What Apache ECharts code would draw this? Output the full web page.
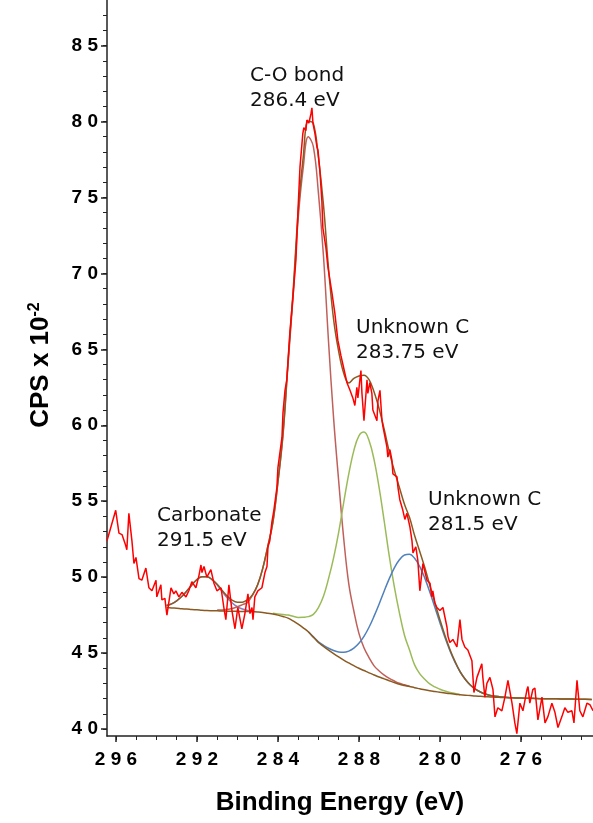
<!DOCTYPE html>
<html>
<head>
<meta charset="utf-8">
<title>XPS C 1s</title>
<script src="https://cdn.jsdelivr.net/npm/echarts@6/dist/echarts.min.js"></script>
<style>
  html, body { margin: 0; padding: 0; background: #fff; }
  #chart { width: 593px; height: 823px; }
</style>
</head>
<body>
<div id="chart"></div>
<script>
// measured spectrum (binding energy, counts x 10^-2)
const specBE = [296.44, 296.01, 295.85, 295.70, 295.52, 295.46, 295.36, 295.21, 295.11, 295.01,
  294.86, 294.72, 294.52, 294.37, 294.22, 294.02, 293.98, 293.78, 293.73, 293.58,
  293.53, 293.48, 293.28, 293.14, 293.04, 292.89, 292.74, 292.54, 292.40, 292.25,
  292.05, 291.90, 291.80, 291.75, 291.65, 291.51, 291.31, 291.16, 291.01, 290.81,
  290.67, 290.57, 290.42, 290.27, 290.12, 289.98, 289.78, 289.63, 289.48, 289.38,
  289.28, 289.23, 289.14, 288.99, 288.79, 288.64, 288.54, 288.49, 288.40, 288.30,
  288.20, 288.05, 288.00, 287.80, 287.75, 287.65, 287.56, 287.41, 287.26, 287.11,
  287.01, 286.91, 286.77, 286.72, 286.62, 286.57, 286.47, 286.37, 286.32, 286.27,
  286.17, 286.07, 286.02, 285.93, 285.83, 285.78, 285.63, 285.53, 285.33, 285.19,
  285.04, 284.89, 284.79, 284.59, 284.44, 284.30, 284.20, 284.10, 284.05, 283.90,
  283.85, 283.75, 283.60, 283.56, 283.46, 283.36, 283.31, 283.11, 283.06, 282.96,
  282.86, 282.81, 282.62, 282.57, 282.47, 282.37, 282.32, 282.12, 282.07, 281.98,
  281.83, 281.73, 281.63, 281.48, 281.38, 281.33, 281.19, 281.09, 280.99, 280.84,
  280.64, 280.49, 280.40, 280.35, 280.25, 280.15, 280.00, 279.85, 279.65, 279.60,
  279.51, 279.36, 279.16, 279.01, 278.91, 278.77, 278.62, 278.42, 278.32, 278.17,
  277.93, 277.88, 277.78, 277.68, 277.53, 277.38, 277.28, 277.14, 276.94, 276.79,
  276.64, 276.44, 276.30, 276.20, 276.05, 275.90, 275.70, 275.65, 275.56, 275.41,
  275.31, 275.16, 274.96, 274.81, 274.67, 274.47, 274.32, 274.17, 273.98, 273.83,
  273.68, 273.48, 273.38, 273.23, 273.09, 272.94, 272.74, 272.59, 272.44];
const specCps = [52.4, 54.4, 52.9, 52.8, 52.1, 51.8, 54.2, 52.4, 50.9, 51.3,
  49.9, 49.8, 50.6, 49.3, 49.1, 49.8, 48.7, 49.5, 48.5, 48.6,
  48.0, 47.5, 49.3, 48.9, 49.1, 48.7, 49.0, 48.7, 49.1, 49.7,
  49.3, 50.1, 50.8, 50.3, 50.7, 50.0, 50.5, 49.6, 49.1, 49.3,
  48.0, 47.2, 49.5, 47.8, 46.6, 48.0, 46.6, 47.6, 48.9, 47.6,
  48.0, 47.2, 48.7, 49.1, 49.3, 50.3, 50.7, 52.0, 52.4, 53.6,
  54.4, 55.9, 57.2, 59.2, 60.8, 62.3, 63.0, 66.1, 68.4, 70.9,
  74.1, 77.0, 79.2, 79.6, 79.4, 80.1, 79.9, 80.5, 80.9, 79.9,
  79.2, 78.3, 78.1, 76.8, 74.8, 73.0, 71.7, 70.4, 68.7, 67.4,
  65.6, 64.6, 64.0, 62.8, 62.3, 61.8, 61.3, 62.5, 61.8, 63.6,
  62.1, 60.3, 63.0, 62.1, 62.8, 62.1, 61.0, 60.3, 61.6, 62.3,
  60.3, 59.9, 58.6, 57.9, 58.4, 57.7, 56.8, 56.6, 55.9, 55.1,
  54.4, 53.8, 54.2, 53.3, 52.4, 51.6, 52.0, 51.1, 49.1, 50.9,
  49.8, 49.6, 48.7, 49.1, 48.3, 48.0, 47.8, 48.0, 46.7, 46.1,
  45.7, 45.9, 45.4, 47.2, 45.9, 45.4, 45.2, 44.5, 42.4, 43.4,
  44.3, 43.4, 42.1, 43.0, 43.4, 42.6, 40.8, 41.4, 41.2, 42.1,
  43.2, 41.7, 40.4, 39.7, 41.7, 41.2, 42.6, 42.8, 41.7, 42.6,
  42.7, 40.6, 42.1, 40.4, 40.8, 41.7, 41.1, 40.1, 40.8, 41.4,
  41.1, 41.2, 40.4, 43.2, 41.2, 40.8, 41.7, 41.6, 41.2];

// fit grid (eV) and fitted curves
const fitBE = [293.5, 293.25, 293.0, 292.75, 292.5, 292.25, 292.0, 291.75, 291.5, 291.25,
  291.0, 290.75, 290.5, 290.25, 290.0, 289.75, 289.5, 289.25, 289.0, 288.75,
  288.5, 288.25, 288.0, 287.75, 287.5, 287.25, 287.0, 286.75, 286.5, 286.25,
  286.0, 285.75, 285.5, 285.25, 285.0, 284.75, 284.5, 284.25, 284.0, 283.75,
  283.5, 283.25, 283.0, 282.75, 282.5, 282.25, 282.0, 281.75, 281.5, 281.25,
  281.0, 280.75, 280.5, 280.25, 280.0, 279.75, 279.5, 279.25, 279.0, 278.75,
  278.5, 278.25, 278.0, 277.75, 277.5, 277.25, 277.0,
  276.5, 276.0, 275.5, 275.0, 274.5, 274.0, 273.5, 273.0, 272.5];
const background = [48.0, 47.97, 47.95, 47.92, 47.9, 47.87, 47.85, 47.82, 47.8, 47.79,
  47.78, 47.77, 47.76, 47.75, 47.75, 47.74, 47.74, 47.72, 47.7, 47.67,
  47.62, 47.57, 47.5, 47.41, 47.3, 47.12, 46.9, 46.66, 46.4, 46.05,
  45.7, 45.44, 45.2, 44.97, 44.75, 44.54, 44.35, 44.17, 44.0, 43.85,
  43.7, 43.56, 43.42, 43.3, 43.18, 43.06, 42.95, 42.87, 42.8, 42.72,
  42.65, 42.58, 42.52, 42.47, 42.42, 42.37, 42.33, 42.29, 42.26, 42.23,
  42.2, 42.17, 42.15, 42.13, 42.11, 42.09, 42.08,
  42.06, 42.04, 42.02, 42.0, 41.99, 41.98, 41.97, 41.96, 41.95];
const carbonate = [48.13, 48.24, 48.44, 48.72, 49.09, 49.49, 49.84, 50.03, 50.03, 49.83,
  49.48, 49.05, 48.63, 48.29, 48.05, 47.9, 47.81, 47.75, null, null,
  null, null, null, null, null, null, null, null, null, null,
  null, null, null, null, null, null, null, null, null, null,
  null, null, null, null, null, null, null, null, null, null,
  null, null, null, null, null, null, null, null, null, null,
  null, null, null, null, null, null, null,
  null, null, null, null, null, null, null, null, null];
const coBond = [null, null, null, null, null, null, null, null, null, null,
  47.83, 47.84, 47.88, 47.93, 48.05, 48.19, 48.34, 48.82, 49.5, 50.57,
  52.02, 53.57, 56.2, 59.31, 64.0, 68.52, 73.6, 76.96, 79.0, 78.35,
  75.3, 71.14, 65.5, 60.47, 56.35, 52.54, 49.55, 47.77, 46.3, 45.35,
  44.7, 44.16, 43.82, 43.55, 43.33, 43.16, 43.01, 42.91, 42.82, null,
  null, null, null, null, null, null, null, null, null, null,
  null, null, null, null, null, null, null,
  null, null, null, null, null, null, null, null, null];
const unknownC1 = [null, null, null, null, null, null, null, null, null, null,
  null, null, null, null, null, null, null, null, null, null,
  null, 47.62, 47.58, 47.54, 47.5, 47.42, 47.35, 47.36, 47.4, 47.55,
  48.0, 48.74, 49.9, 51.27, 52.95, 54.92, 56.8, 58.33, 59.3, 59.55,
  59.0, 57.72, 55.87, 53.68, 51.38, 49.36, 47.65, 46.17, 45.2, 44.22,
  43.65, 43.28, 42.97, 42.77, 42.62, 42.5, 42.41, 42.34, 42.26, null,
  null, null, null, null, null, null, null,
  null, null, null, null, null, null, null, null, null];
const unknownC2 = [null, null, null, null, null, null, null, null, null, null,
  null, null, null, null, null, null, null, null, null, null,
  null, null, null, null, null, null, null, null, 46.41, 46.07,
  45.74, 45.51, 45.32, 45.17, 45.07, 45.05, 45.13, 45.32, 45.64, 46.1,
  46.7, 47.43, 48.23, 49.09, 49.9, 50.61, 51.14, 51.46, 51.5, 51.24,
  50.71, 49.95, 49.02, 48.02, 47.0, 46.02, 45.14, 44.39, 43.77, 43.28,
  42.9, 42.63, 42.44, 42.3, 42.21, 42.15, 42.11,
  42.06, null, null, null, null, null, null, null, null];
const envelope = [48.13, 48.24, 48.44, 48.72, 49.09, 49.49, 49.84, 50.03, 50.03, 49.83,
  49.53, 49.12, 48.75, 48.47, 48.35, 48.35, 48.51, 48.85, 49.5, 50.57,
  52.02, 53.62, 56.28, 59.44, 64.2, 68.82, 74.05, 77.66, 80.01, 79.87,
  77.64, 74.51, 70.32, 66.97, 64.87, 63.43, 62.78, 63.08, 63.24, 63.3,
  63.0, 62.19, 61.08, 59.72, 58.25, 57.01, 55.9, 54.8, 53.92, 52.74,
  51.71, 50.65, 49.47, 48.32, 47.2, 46.15, 45.22, 44.44, 43.77, 43.28,
  42.9, 42.63, 42.44, 42.3, 42.21, 42.15, 42.11,
  42.06, 42.04, 42.02, 42.0, 41.99, 41.98, 41.97, 41.96, 41.95];

// axis ticks (labels as printed on the figure)
const xTickValues = [296, 292, 288, 284, 280, 276];
const xTickLabels = ['296', '292', '284', '288', '280', '276'];
const xMinorTicks = [296, 295, 294, 293, 292, 291, 290, 289, 288, 287, 286, 285, 284, 283, 282,
  281, 280, 279, 278, 277, 276, 275, 274, 273];
const yTickValues = [40, 45, 50, 55, 60, 65, 70, 75, 80, 85];
const yMinorTicks = [40, 41, 42, 43, 44, 45, 46, 47, 48, 49, 50, 51, 52, 53, 54, 55, 56, 57, 58, 59,
  60, 61, 62, 63, 64, 65, 66, 67, 68, 69, 70, 71, 72, 73, 74, 75, 76, 77, 78, 79,
  80, 81, 82, 83, 84, 85, 86, 87];

function pairs(xs, ys) {
  return xs.map((x, i) => [x, ys[i]]);
}
function spaced(s) {
  return String(s).split('').join(' ');
}

const axisFont = 'Liberation Sans, Arial, sans-serif';
const noteFont = 'DejaVu Sans, Verdana, sans-serif';

let myChart = echarts.init(document.getElementById('chart'));

function fitLine(name, data, color, z) {
  return {
    name: name,
    type: 'line',
    data: pairs(fitBE, data),
    smooth: 0.4,
    showSymbol: false,
    connectNulls: false,
    lineStyle: { color: color, width: 1.5 },
    z: z
  };
}

function note(x, y, text) {
  return { type: 'text', left: x, top: y, style: { text: text, font: '20px ' + noteFont, fill: '#111', lineHeight: 25 } };
}

myChart.setOption({
  animation: false,
  backgroundColor: '#fff',
  grid: { left: 107, right: 0, top: 0, bottom: 87 },
  xAxis: [
    {
      type: 'value',
      inverse: true,
      min: 272.44,
      max: 296.44,
      axisLine: { lineStyle: { color: '#222', width: 1.5 } },
      axisTick: { customValues: xTickValues, length: 6, lineStyle: { color: '#222', width: 1.5 } },
      axisLabel: {
        customValues: xTickValues,
        margin: 14,
        fontFamily: axisFont, fontWeight: 'bold', fontSize: 19, color: '#000',
        formatter: function (v) {
          const i = xTickValues.indexOf(v);
          return i < 0 ? '' : spaced(xTickLabels[i]);
        }
      },
      splitLine: { show: false }
    },
    {
      type: 'value',
      inverse: true,
      min: 272.44,
      max: 296.44,
      position: 'bottom',
      axisLine: { show: false },
      axisTick: { customValues: xMinorTicks, length: 4, lineStyle: { color: '#222', width: 1 } },
      axisLabel: { show: false },
      splitLine: { show: false }
    }
  ],
  yAxis: [
    {
      type: 'value',
      min: 39.54,
      max: 88,
      axisLine: { lineStyle: { color: '#222', width: 1.5 } },
      axisTick: { customValues: yTickValues, length: 6, lineStyle: { color: '#222', width: 1.5 } },
      axisLabel: {
        customValues: yTickValues,
        margin: 9,
        fontFamily: axisFont, fontWeight: 'bold', fontSize: 19, color: '#000',
        formatter: function (v) { return spaced(v); }
      },
      splitLine: { show: false }
    },
    {
      type: 'value',
      min: 39.54,
      max: 88,
      position: 'left',
      axisLine: { show: false },
      axisTick: { customValues: yMinorTicks, length: 4, lineStyle: { color: '#222', width: 1 } },
      axisLabel: { show: false },
      splitLine: { show: false }
    }
  ],
  graphic: [
    {
      type: 'text', x: 340, y: 803,
      style: { text: 'Binding Energy (eV)', font: 'bold 26px ' + axisFont, fill: '#000', align: 'center', verticalAlign: 'middle' }
    },
    {
      type: 'text', x: 41, y: 365, rotation: Math.PI / 2,
      style: {
        text: '{t|CPS x 10}{s|-2}', align: 'center', verticalAlign: 'middle',
        rich: {
          t: { font: 'bold 26px ' + axisFont, fill: '#000' },
          s: { font: 'bold 16px ' + axisFont, fill: '#000', verticalAlign: 'top', padding: [0, 0, 12, 0] }
        }
      }
    },
    note(250, 63, 'C-O bond\n286.4 eV'),
    note(356, 315, 'Unknown C\n283.75 eV'),
    note(428, 487, 'Unknown C\n281.5 eV'),
    note(157, 503, 'Carbonate\n291.5 eV')
  ],
  series: [
    fitLine('Carbonate', carbonate, '#8a7cc0', 2),
    fitLine('C-O', coBond, '#c0605a', 2),
    fitLine('Unknown C 283.75', unknownC1, '#9bbb59', 2),
    fitLine('Unknown C 281.5', unknownC2, '#4f81bd', 2),
    fitLine('Background', background, '#8b5a22', 3),
    fitLine('Envelope', envelope, '#8b5a22', 3),
    {
      name: 'Data',
      type: 'line',
      data: pairs(specBE, specCps),
      showSymbol: false,
      lineStyle: { color: '#ff0000', width: 1.5 },
      z: 4
    }
  ]
});
</script>
</body>
</html>
